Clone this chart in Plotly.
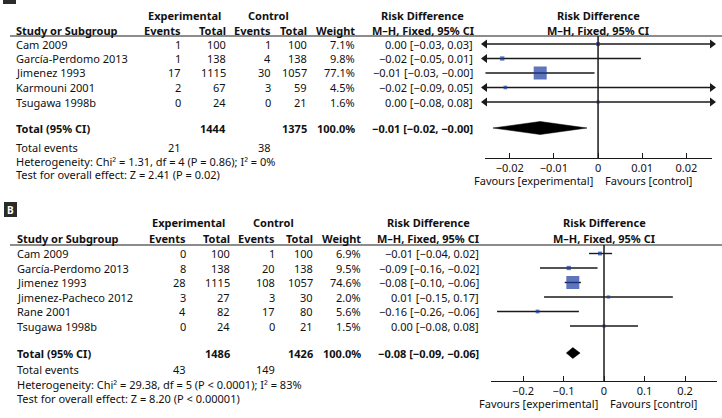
import plotly.graph_objects as go

W, H = 722, 418
FONT = "Noto Sans"
FS = 11
BLUE = "#1b3a9e"
LINE = "#1a1a1a"

# ---------------- data: panel A ----------------
A_studies = ["Cam 2009", "García-Perdomo 2013", "Jimenez 1993", "Karmouni 2001", "Tsugawa 1998b"]
A_exp_events = [1, 1, 17, 2, 0]
A_exp_total = [100, 138, 1115, 67, 24]
A_ctl_events = [1, 4, 30, 3, 0]
A_ctl_total = [100, 138, 1057, 59, 21]
A_weight = [7.1, 9.8, 77.1, 4.5, 1.6]
A_rd = [0.000, -0.0217, -0.0131, -0.0210, 0.000]
A_lo = [-0.0276, -0.0513, -0.0255, -0.0900, -0.0800]
A_hi = [0.0276, 0.0097, -0.0008, 0.0500, 0.0800]
A_ci_text = ["0.00 [−0.03, 0.03]", "−0.02 [−0.05, 0.01]", "−0.01 [−0.03, −0.00]",
             "−0.02 [−0.09, 0.05]", "0.00 [−0.08, 0.08]"]
A_tot = {"exp_total": 1444, "ctl_total": 1375, "weight": "100.0%", "ci": "−0.01 [−0.02, −0.00]",
         "exp_events": 21, "ctl_events": 38}
A_tot_rd, A_tot_lo, A_tot_hi = -0.0131, -0.0238, -0.0025
A_het = "Heterogeneity: Chi² = 1.31, df = 4 (P = 0.86); I² = 0%"
A_test = "Test for overall effect: Z = 2.41 (P = 0.02)"
A_ticks = [-0.02, -0.01, 0, 0.01, 0.02]
A_ticktext = ["−0.02", "−0.01", "0", "0.01", "0.02"]

# ---------------- data: panel B ----------------
B_studies = ["Cam 2009", "García-Perdomo 2013", "Jimenez 1993", "Jimenez-Pacheco 2012", "Rane 2001", "Tsugawa 1998b"]
B_exp_events = [0, 8, 28, 3, 4, 0]
B_exp_total = [100, 138, 1115, 27, 82, 24]
B_ctl_events = [1, 20, 108, 3, 17, 0]
B_ctl_total = [100, 138, 1057, 30, 80, 21]
B_weight = [6.9, 9.5, 74.6, 2.0, 5.6, 1.5]
B_rd = [-0.010, -0.087, -0.077, 0.011, -0.164, 0.000]
B_lo = [-0.037, -0.158, -0.097, -0.148, -0.264, -0.084]
B_hi = [0.020, -0.016, -0.057, 0.170, -0.062, 0.084]
B_ci_text = ["−0.01 [−0.04, 0.02]", "−0.09 [−0.16, −0.02]", "−0.08 [−0.10, −0.06]",
             "0.01 [−0.15, 0.17]", "−0.16 [−0.26, −0.06]", "0.00 [−0.08, 0.08]"]
B_tot = {"exp_total": 1486, "ctl_total": 1426, "weight": "100.0%", "ci": "−0.08 [−0.09, −0.06]",
         "exp_events": 43, "ctl_events": 149}
B_tot_rd, B_tot_lo, B_tot_hi = -0.077, -0.093, -0.059
B_het = "Heterogeneity: Chi² = 29.38, df = 5 (P < 0.0001); I² = 83%"
B_test = "Test for overall effect: Z = 8.20 (P < 0.00001)"
B_ticks = [-0.2, -0.1, 0, 0.1, 0.2]
B_ticktext = ["−0.2", "−0.1", "0", "0.1", "0.2"]


def px(x):
    return x / W


def py(y):
    return 1 - y / H


fig = go.Figure()
annotations = []
shapes = []


def txt(x, y, s, anchor="left", bold=False, size=FS):
    annotations.append(dict(
        x=px(x), y=py(y), xref="paper", yref="paper", text=("<b>%s</b>" % s) if bold else s,
        showarrow=False, xanchor=anchor, yanchor="middle",
        font=dict(family=FONT, size=size, color="#111111")))


def panel(label, lab_box, cfg, studies, ee, et, ce, ct, wt, rd, lo, hi, citext,
          tot, trd, tlo, thi, het, test, ticks, ticktext, xaxis, yaxis):
    # label box
    x0, y0, x1, y1 = lab_box
    shapes.append(dict(type="rect", xref="paper", yref="paper", x0=px(x0), x1=px(x1),
                       y0=py(y0), y1=py(y1), fillcolor="#2b2b2b", line=dict(width=0)))
    if y0 >= 0:
        annotations.append(dict(x=px((x0 + x1) / 2), y=py((y0 + y1) / 2 + 0.5), xref="paper", yref="paper",
                                text="<b>%s</b>" % label, showarrow=False, xanchor="center", yanchor="middle",
                                font=dict(family=FONT, size=10, color="white")))
    c = cfg
    # headers
    txt(c["exp_c"], c["h1"], "Experimental", "center", True)
    txt(c["ctl_c"], c["h1"], "Control", "center", True)
    txt(c["ci_c"], c["h1"], "Risk Difference", "center", True)
    txt(c["plot_c"], c["h1"], "Risk Difference", "center", True)
    txt(c["left"], c["h2"], "Study or Subgroup", "left", True)
    txt(c["ee_r"], c["h2"], "Events", "right", True)
    txt(c["et_r"], c["h2"], "Total", "right", True)
    txt(c["ce_r"], c["h2"], "Events", "right", True)
    txt(c["ct_r"], c["h2"], "Total", "right", True)
    txt(c["w_r"], c["h2"], "Weight", "right", True)
    txt(c["ci_c"], c["h2"], "M–H, Fixed, 95% CI", "center", True)
    txt(c["plot_c"], c["h2"], "M–H, Fixed, 95% CI", "center", True)
    shapes.append(dict(type="line", xref="paper", yref="paper", x0=px(c["rule_x0"]), x1=1,
                       y0=py(c["rule"]), y1=py(c["rule"]), line=dict(color=LINE, width=1.2)))
    # rows
    rowy = lambda r: c["r0"] + c["dr"] * r
    for i, s in enumerate(studies):
        y = rowy(i)
        txt(c["left"], y, s)
        txt(c["ee_r"], y, str(ee[i]), "right")
        txt(c["et_r"], y, str(et[i]), "right")
        txt(c["ce_r"], y, str(ce[i]), "right")
        txt(c["ct_r"], y, str(ct[i]), "right")
        txt(c["w_r"], y, "%.1f%%" % wt[i], "right")
        txt(c["ci_r"], y, citext[i], "right")
    y = c["tot"]
    txt(c["left"], y, "Total (95% CI)", "left", True)
    txt(c["et_r"], y, str(tot["exp_total"]), "right", True)
    txt(c["ct_r"], y, str(tot["ctl_total"]), "right", True)
    txt(c["w_r"], y, tot["weight"], "right", True)
    txt(c["ci_r"], y, tot["ci"], "right", True)
    txt(c["left"], c["ev"], "Total events")
    txt(c["ee_r"], c["ev"], str(tot["exp_events"]), "right")
    txt(c["ce_r"], c["ev"], str(tot["ctl_events"]), "right")
    txt(c["left"], c["het"], het)
    txt(c["left"], c["test"], test)
    txt(c["fav_l"], c["fav"], "Favours [experimental]", "right")
    txt(c["fav_r"], c["fav"], "Favours [control]", "left")

    # forest plot
    xr = c["xrange"]
    rows = list(range(len(studies)))
    r_top = (c["rule"] - c["r0"]) / c["dr"]
    r_bot = (c["axis"] - c["r0"]) / c["dr"]
    xa = "x" if xaxis == "xaxis" else "x2"
    ya = "y" if yaxis == "yaxis" else "y2"
    for i in rows:
        fig.add_trace(go.Scatter(x=[lo[i], hi[i]], y=[i, i], mode="lines", xaxis=xa, yaxis=ya,
                                 line=dict(color=LINE, width=1.4), hoverinfo="skip", showlegend=False))
    fig.add_trace(go.Scatter(x=rd, y=rows, mode="markers", xaxis=xa, yaxis=ya, showlegend=False,
                             marker=dict(symbol="square", color=BLUE,
                                         size=[3 + 10 * w / max(wt) for w in wt], line=dict(width=0))))
    la = [(xr[0], i) for i in rows if lo[i] < xr[0]]
    ra = [(xr[1], i) for i in rows if hi[i] > xr[1]]
    if la:
        fig.add_trace(go.Scatter(x=[a[0] for a in la], y=[a[1] for a in la], mode="markers", xaxis=xa,
                                 yaxis=ya, cliponaxis=False, showlegend=False,
                                 marker=dict(symbol="triangle-left", size=8, color=LINE, line=dict(width=0))))
    if ra:
        fig.add_trace(go.Scatter(x=[a[0] for a in ra], y=[a[1] for a in ra], mode="markers", xaxis=xa,
                                 yaxis=ya, cliponaxis=False, showlegend=False,
                                 marker=dict(symbol="triangle-right", size=8, color=LINE, line=dict(width=0))))
    tr = (c["tot"] - c["r0"]) / c["dr"]
    hh = c["dh"] / c["dr"]
    fig.add_trace(go.Scatter(x=[tlo, trd, thi, trd, tlo], y=[tr, tr - hh, tr, tr + hh, tr],
                             mode="lines", fill="toself", fillcolor="black", xaxis=xa, yaxis=ya,
                             line=dict(color="black", width=0.5), showlegend=False, hoverinfo="skip"))
    shapes.append(dict(type="line", xref=xa, yref=ya + " domain", x0=0, x1=0, y0=0, y1=1,
                       line=dict(color=LINE, width=1.5)))
    d_x = [px(c["ax_x0"]), px(c["ax_x1"])]
    d_y = [py(c["axis"]), py(c["rule"])]
    layout_x = dict(domain=d_x, range=xr, anchor=ya, showline=True, linecolor=LINE, linewidth=1.4,
                    ticks="inside", ticklen=5, tickwidth=1.2, tickcolor=LINE, tickvals=ticks,
                    ticktext=ticktext, showgrid=False, zeroline=False, fixedrange=True,
                    tickfont=dict(family=FONT, size=FS, color="#111111"))
    layout_y = dict(domain=d_y, range=[r_bot, r_top], anchor=xa, visible=False, showgrid=False,
                    zeroline=False, fixedrange=True)
    fig.update_layout(**{xaxis: layout_x, yaxis: layout_y})


cfgA = dict(left=14, h1=15, h2=30, rule=36, rule_x0=10, r0=44, dr=14.5, tot=128, ev=147, het=161, test=174,
            exp_c=184, ctl_c=268, ci_c=423, plot_c=598, ee_r=183, et_r=228, ce_r=273,
            ct_r=309, w_r=357, ci_r=475, fav=180.5, fav_l=595, fav_r=603, axis=158, xrange=[-0.0256, 0.0258],
            ax_x0=485, ax_x1=712, dh=6.5)
cfgB = dict(left=15, h1=223, h2=238, rule=245, rule_x0=10, r0=253.5, dr=14.5, tot=353, ev=369, het=384,
            test=398, exp_c=188.5, ctl_c=273, ci_c=428, plot_c=604, ee_r=188, et_r=232, ce_r=277,
            ct_r=315, w_r=363, ci_r=481, fav=403, fav_l=600, fav_r=608, axis=381, xrange=[-0.279, 0.279],
            ax_x0=491, ax_x1=717, dh=5.5)

panel("A", (3, -10, 16, 4), cfgA, A_studies, A_exp_events, A_exp_total, A_ctl_events, A_ctl_total,
      A_weight, A_rd, A_lo, A_hi, A_ci_text, A_tot, A_tot_rd, A_tot_lo, A_tot_hi, A_het, A_test,
      A_ticks, A_ticktext, "xaxis", "yaxis")
panel("B", (4, 202, 17, 217), cfgB, B_studies, B_exp_events, B_exp_total, B_ctl_events, B_ctl_total,
      B_weight, B_rd, B_lo, B_hi, B_ci_text, B_tot, B_tot_rd, B_tot_lo, B_tot_hi, B_het, B_test,
      B_ticks, B_ticktext, "xaxis2", "yaxis2")

fig.update_layout(width=W, height=H, margin=dict(l=0, r=0, t=0, b=0), plot_bgcolor="white",
                  paper_bgcolor="white", annotations=annotations, shapes=shapes, showlegend=False,
                  font=dict(family=FONT, size=FS, color="#111111"))
fig.write_html("out.html")
